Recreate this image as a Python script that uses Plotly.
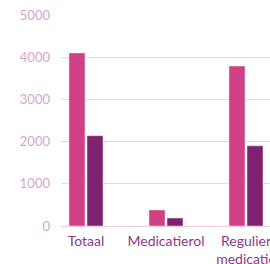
import plotly.graph_objects as go

categories = ["Totaal", "Medicatierol", "Regulier<br>medicatie"]
series_a = [4100, 380, 3790]
series_b = [2140, 190, 1900]
y_ticks = [0, 1000, 2000, 3000, 4000, 5000]

fig = go.Figure()
fig.add_trace(go.Bar(x=categories, y=series_a, marker_color="#d13f84", name="A"))
fig.add_trace(go.Bar(x=categories, y=series_b, marker_color="#7e2270", name="B"))

fig.update_layout(
    width=270, height=264,
    margin=dict(l=61, r=0, t=15, b=38, autoexpand=False),
    barmode="group", bargap=0.55, bargroupgap=0.11,
    showlegend=False,
    plot_bgcolor="white", paper_bgcolor="white",
    font=dict(family="Lato", size=12),
)
fig.update_xaxes(
    type="category", range=[-0.3125, 2.3], automargin=False,
    showgrid=False, showline=False, zeroline=False,
    tickfont=dict(color="#8c3a85", size=14),
    ticklabelstandoff=5,
)
fig.update_yaxes(
    range=[0, 5000], tickvals=y_ticks, automargin=False,
    showgrid=True, gridcolor="#f4d2e4", gridwidth=1,
    zeroline=True, zerolinecolor="#f2cade", zerolinewidth=1,
    showline=False,
    tickfont=dict(color="#d6a6cf", size=13),
    ticklabelstandoff=10,
)
fig.write_html(
    "out.html",
    config={"displayModeBar": False},
    post_script="document.body.style.margin='0';document.body.style.overflow='hidden';",
)
